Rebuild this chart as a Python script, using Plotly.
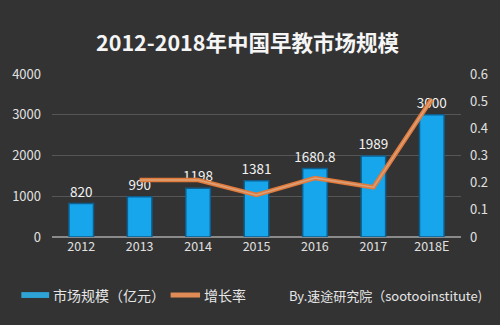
import plotly.graph_objects as go

years = ["2012", "2013", "2014", "2015", "2016", "2017", "2018E"]
market_size = [820, 990, 1198, 1381, 1680.8, 1989, 3000]
growth_years = ["2013", "2014", "2015", "2016", "2017", "2018E"]
growth_rate = [0.21, 0.21, 0.155, 0.217, 0.183, 0.508]

FONT = "Noto Sans CJK SC"
BAR_BLUE = "#17a6ec"
LINE_ORANGE = "#e27a3a"

fig = go.Figure()

fig.add_trace(go.Bar(
    x=years, y=market_size, name="市场规模（亿元）",
    marker=dict(color=BAR_BLUE, line=dict(color="#0c5f8f", width=1.5)),
    width=0.42,
    text=[f"{v:g}" for v in market_size], textposition="outside",
    textfont=dict(color="#f2f2f2", size=13.5, family=FONT),
    cliponaxis=False, showlegend=False,
))

fig.add_trace(go.Scatter(
    x=growth_years, y=growth_rate, name="增长率", yaxis="y2",
    mode="lines", line=dict(color=LINE_ORANGE, width=4.5),
    showlegend=False,
))
fig.add_trace(go.Scatter(
    x=growth_years, y=growth_rate, yaxis="y2", hoverinfo="skip",
    mode="lines", line=dict(color="#d9a27c", width=1.5),
    showlegend=False,
))

# custom legend swatches and source note under the axis
LEG_Y = -0.356
fig.add_shape(type="rect", xref="paper", yref="paper",
              x0=-0.075, x1=-0.007, y0=LEG_Y - 0.018, y1=LEG_Y + 0.018,
              fillcolor="#2ea3d6", line=dict(width=0))
fig.add_shape(type="line", xref="paper", yref="paper",
              x0=0.29, x1=0.362, y0=LEG_Y, y1=LEG_Y,
              line=dict(color="#e08a55", width=5))
legend_texts = [
    (-0.003, "市场规模（亿元）", 14),
    (0.366, "增长率", 14),
    (0.575, "By.速途研究院（sootooinstitute)", 13),
]
for xpos, label, size in legend_texts:
    fig.add_annotation(x=xpos, y=LEG_Y, xref="paper", yref="paper",
                       text=label, showarrow=False, xanchor="left", yanchor="middle",
                       font=dict(color="#e6e6e6", size=size, family=FONT))

fig.update_layout(
    width=500, height=325,
    margin=dict(l=48, r=38, t=74, b=88),
    paper_bgcolor="#333333", plot_bgcolor="rgba(0,0,0,0)",
    title=dict(text="<b>2012-2018年中国早教市场规模</b>", x=0.495, xanchor="center",
               y=0.865, yanchor="middle",
               font=dict(color="#f5f5f5", size=21.5, family=FONT)),
    font=dict(family=FONT, color="#e0e0e0"),
    uniformtext=dict(minsize=13, mode="show"),
    xaxis=dict(showgrid=False, tickfont=dict(size=12.5, color="#e0e0e0"),
               showline=False, ticks=""),
    yaxis=dict(range=[0, 4000], dtick=1000, gridcolor="#565656", gridwidth=1,
               zeroline=True, zerolinecolor="#8a8a8a", zerolinewidth=2,
               tickfont=dict(size=13, color="#e0e0e0"), ticklabelstandoff=10),
    yaxis2=dict(range=[0, 0.6], dtick=0.1, overlaying="y", side="right",
                showgrid=False, zeroline=False,
                tickfont=dict(size=13, color="#e0e0e0"), ticklabelstandoff=8),
)

fig.write_html("out.html")
